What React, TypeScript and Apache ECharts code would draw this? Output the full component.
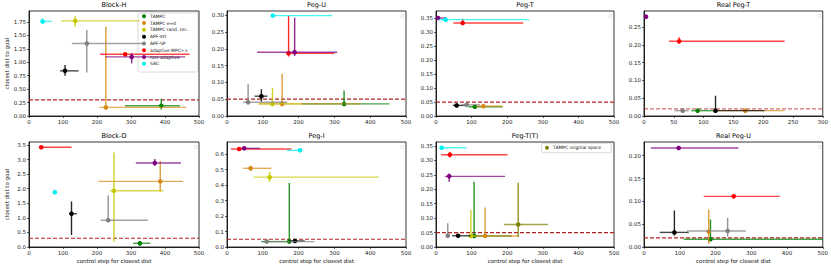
import React, { useEffect, useRef } from "react";
import * as echarts from "echarts";

// ---------- data ----------
const methods = [
  "TAMPC",
  "TAMPC e=0",
  "TAMPC rand. rec.",
  "APF-VO",
  "APF-SP",
  "adaptive MPC++",
  "non-adaptive",
  "SAC",
];
const methodColors = ["#008000", "#d68a16", "#c8c800", "#000000", "#808080", "#ff0000", "#800080", "#00f0f0"];
const extraName = "TAMPC original space";
const extraColor = "#808000";

const titles = ["Block-H", "Peg-U", "Peg-T", "Real Peg-T", "Block-D", "Peg-I", "Peg-T(T)", "Real Peg-U"];

// each row: [x, y, xLow, xHigh, yLow, yHigh] in method order (null = not shown)
type Row = [number, number, number, number, number, number] | null;

const blockH: Row[] = [
  [389, 0.19, 282, 444, 0.12, 0.32],
  [226, 0.16, 207, 462, 0.12, 1.66],
  [136, 1.77, 94, 325, 1.66, 1.86],
  [106, 0.84, 91, 146, 0.75, 0.95],
  [170, 1.35, 126, 336, 0.81, 1.6],
  [283, 1.15, 209, 472, 1.11, 1.17],
  [302, 1.1, 224, 459, 0.98, 1.17],
  [40, 1.76, 34, 67, 1.72, 1.82],
];
const pegU: Row[] = [
  [327, 0.036, 208, 454, 0.029, 0.076],
  [154, 0.036, 89, 375, 0.029, 0.126],
  [127, 0.036, 89, 208, 0.029, 0.083],
  [96, 0.059, 77, 113, 0.043, 0.08],
  [59, 0.041, 45, 168, 0.034, 0.096],
  [172, 0.187, 166, 300, 0.177, 0.299],
  [189, 0.19, 84, 308, 0.179, 0.293],
  [128, 0.299, 128, 294, 0.297, 0.301],
];
const pegT: Row[] = [
  [109, 0.033, 91, 187, 0.031, 0.036],
  [133, 0.035, 114, 187, 0.033, 0.037],
  null,
  [58, 0.038, 47, 86, 0.036, 0.04],
  [86, 0.04, 72, 124, 0.038, 0.042],
  [75, 0.333, 49, 245, 0.326, 0.348],
  [5.6, 0.351, 0, 30, 0.349, 0.353],
  [27, 0.345, 7, 262, 0.343, 0.347],
];
const realPegT: Row[] = [
  [90, 0.015, 79, 120, 0.013, 0.017],
  [170, 0.015, 120, 236, 0.013, 0.017],
  null,
  [120, 0.015, 120, 202, 0.012, 0.057],
  [65, 0.015, 51, 75, 0.013, 0.017],
  [59, 0.21, 42, 236, 0.203, 0.221],
  [3.4, 0.279, 3.4, 3.4, 0.279, 0.279],
  null,
];
const blockD: Row[] = [
  [326, 0.126, 306, 357, 0.03, 0.2],
  [386, 2.25, 204, 453, 1.9, 2.95],
  [250, 1.93, 238, 395, 0.18, 3.24],
  [125, 1.14, 118, 141, 0.41, 1.56],
  [233, 0.915, 211, 350, 0.915, 1.77],
  [36, 3.42, 30, 125, 3.4, 3.44],
  [370, 2.88, 314, 447, 2.79, 3.02],
  [76, 1.88, 76, 76, 1.85, 1.91],
];
const pegI: Row[] = [
  [174, 0.035, 96, 175, 0.03, 0.413],
  [66, 0.508, 45, 124, 0.49, 0.525],
  [119, 0.451, 74, 424, 0.42, 0.485],
  [190, 0.039, 175, 217, 0.037, 0.041],
  [111, 0.035, 96, 244, 0.033, 0.037],
  [34, 0.633, 11, 180, 0.63, 0.636],
  [48, 0.637, 40, 92, 0.635, 0.64],
  [204, 0.624, 167, 204, 0.622, 0.626],
];
const pegTT: Row[] = [
  [107, 0.038, 98, 213, 0.033, 0.226],
  [138, 0.038, 91, 231, 0.033, 0.137],
  [98, 0.038, 90, 110, 0.033, 0.128],
  [62, 0.039, 45, 97, 0.037, 0.041],
  [33, 0.039, 28, 38, 0.033, 0.082],
  [39, 0.32, 14, 201, 0.31, 0.33],
  [37, 0.245, 25, 194, 0.226, 0.255],
  [16, 0.344, 11, 86, 0.342, 0.346],
];
const pegTTOriginal: Row = [231, 0.078, 191, 315, 0.035, 0.223];
const realPegU: Row[] = [
  [186, 0.017, 111, 500, 0.014, 0.06],
  [181, 0.034, 175, 185, 0.007, 0.082],
  null,
  [85, 0.032, 44, 125, 0.025, 0.08],
  [234, 0.035, 120, 285, 0.023, 0.064],
  [251, 0.111, 167, 380, 0.106, 0.116],
  [97, 0.217, 19, 264, 0.215, 0.219],
  null,
];
const panels: Row[][] = [blockH, pegU, pegT, realPegT, blockD, pegI, pegTT, realPegU];

const thresholds = [0.3, 0.05, 0.05, 0.02, 0.3, 0.05, 0.05, 0.02];
const xMaxes = [500, 500, 500, 300, 500, 500, 500, 500];
const xIntervals = [100, 100, 100, 50, 100, 100, 100, 100];
const yMaxes = [1.954, 0.3128, 0.376, 0.295, 3.6, 0.678, 0.364, 0.23];
const yTicks: number[][] = [
  [0, 0.25, 0.5, 0.75, 1.0, 1.25, 1.5, 1.75],
  [0, 0.05, 0.1, 0.15, 0.2, 0.25, 0.3],
  [0, 0.05, 0.1, 0.15, 0.2, 0.25, 0.3, 0.35],
  [0, 0.05, 0.1, 0.15, 0.2, 0.25],
  [0, 0.5, 1.0, 1.5, 2.0, 2.5, 3.0, 3.5],
  [0, 0.1, 0.2, 0.3, 0.4, 0.5, 0.6],
  [0, 0.05, 0.1, 0.15, 0.2, 0.25, 0.3, 0.35],
  [0, 0.05, 0.1, 0.15, 0.2],
];
const yDecimals = [2, 2, 2, 2, 1, 1, 2, 2];
const xLabel = "control step for closest dist";
const yLabel = "closest dist to goal";

// ---------- layout ----------
const colLeft = [29, 227, 436, 644];
const colWidth = [170, 179, 178, 179];
const rowTop = [11, 142];
const plotHeight = 105;
const FONT = "DejaVu Sans";

function errorBarRender(params: any, api: any) {
  const x = api.value(0);
  const y = api.value(1);
  const p = api.coord([x, y]);
  const xl = api.coord([api.value(2), y]);
  const xh = api.coord([api.value(3), y]);
  const yl = api.coord([x, api.value(4)]);
  const yh = api.coord([x, api.value(5)]);
  const color = api.visual("color");
  return {
    type: "group",
    children: [
      {
        type: "line",
        shape: { x1: xl[0], y1: p[1], x2: xh[0], y2: p[1] },
        style: { stroke: color, lineWidth: 1.4, opacity: 0.72 },
      },
      {
        type: "line",
        shape: { x1: p[0], y1: yl[1], x2: p[0], y2: yh[1] },
        style: { stroke: color, lineWidth: 1.4, opacity: 0.85 },
      },
      {
        type: "circle",
        shape: { cx: p[0], cy: p[1], r: 2.3 },
        style: { fill: color },
      },
    ],
  };
}

export default function App() {
  const ref = useRef<HTMLDivElement>(null);
  useEffect(() => {
    if (!ref.current) return;
    const chart = echarts.init(ref.current, null, { renderer: "svg" });

    const grid: any[] = [];
    const xAxis: any[] = [];
    const yAxis: any[] = [];
    const series: any[] = [];
    const graphic: any[] = [];

    panels.forEach((rows, i) => {
      const r = Math.floor(i / 4);
      const c = i % 4;
      const left = colLeft[c];
      const width = colWidth[c];
      const top = rowTop[r];
      grid.push({
        left,
        top,
        width,
        height: plotHeight,
        show: true,
        borderColor: "#000",
        borderWidth: 0.8,
        backgroundColor: "transparent",
      });
      xAxis.push({
        type: "value",
        gridIndex: i,
        min: 0,
        max: xMaxes[i],
        interval: xIntervals[i],
        name: r === 1 ? xLabel : "",
        nameLocation: "middle",
        nameGap: 11,
        nameTextStyle: { fontSize: 5.5, color: "#111", fontFamily: FONT },
        axisLine: { show: true, lineStyle: { color: "#000", width: 0.8 } },
        axisTick: { show: true, length: 2, lineStyle: { color: "#000", width: 0.6 } },
        axisLabel: { fontSize: 5.5, color: "#222", margin: 3, fontFamily: FONT, hideOverlap: false },
        splitLine: { show: false },
      });
      const dec = yDecimals[i];
      yAxis.push({
        type: "value",
        gridIndex: i,
        min: 0,
        max: yMaxes[i],
        name: c === 0 ? yLabel : "",
        nameLocation: "middle",
        nameGap: 19,
        nameTextStyle: { fontSize: 5.5, color: "#111", fontFamily: FONT },
        axisLine: { show: true, lineStyle: { color: "#000", width: 0.8 } },
        axisTick: {
          show: true,
          length: 2,
          customValues: yTicks[i],
          lineStyle: { color: "#000", width: 0.6 },
        },
        axisLabel: {
          fontSize: 5.5,
          color: "#222",
          margin: 3,
          fontFamily: FONT,
          customValues: yTicks[i],
          formatter: (v: number) => v.toFixed(dec),
        },
        splitLine: { show: false },
      });

      // threshold line
      series.push({
        type: "line",
        name: "goal threshold",
        xAxisIndex: i,
        yAxisIndex: i,
        data: [
          [0, thresholds[i]],
          [xMaxes[i], thresholds[i]],
        ],
        showSymbol: false,
        symbol: "none",
        silent: true,
        z: 1,
        lineStyle: { type: [4, 2], color: "#b22222", width: 1.2, opacity: i === 3 ? 0.65 : 1 },
      });

      const addBar = (name: string, color: string, row: Row) => {
        if (!row) return;
        series.push({
          type: "custom",
          name,
          xAxisIndex: i,
          yAxisIndex: i,
          itemStyle: { color },
          encode: { x: 0, y: 1 },
          renderItem: errorBarRender,
          data: [row],
          z: 3,
        });
      };
      rows.forEach((row, m) => addBar(methods[m], methodColors[m], row));
      if (i === 6) addBar(extraName, extraColor, pegTTOriginal);

      // title
      graphic.push({
        type: "text",
        x: left + width / 2,
        y: r === 0 ? 5 : 136,
        style: {
          text: titles[i],
          fontSize: 6.5,
          fill: "#000",
          fontFamily: FONT,
          textAlign: "center",
          textVerticalAlign: "middle",
        },
      });
      // empty legend boxes
      if (i !== 0 && i !== 6) {
        graphic.push({
          type: "rect",
          shape: { x: left + width - 5, y: top + 3.5, width: 3, height: 3 },
          style: { fill: "#fff", stroke: "#d8d8d8", lineWidth: 0.6 },
        });
      }
    });

    // legend frames
    graphic.push({
      type: "rect",
      z: -1,
      shape: { x: 138, y: 13, width: 60, height: 59, r: 1.5 },
      style: { fill: "rgba(255,255,255,0.6)", stroke: "#d0d0d0", lineWidth: 0.8 },
    });
    graphic.push({
      type: "rect",
      z: -1,
      shape: { x: 541.7, y: 143.3, width: 69.6, height: 9.4, r: 1.5 },
      style: { fill: "rgba(255,255,255,0.6)", stroke: "#d0d0d0", lineWidth: 0.8 },
    });

    const legendBase = {
      orient: "vertical",
      itemWidth: 4,
      itemHeight: 4,
      itemGap: 1.3,
      padding: 0,
      selectedMode: false,
      textStyle: { fontSize: 4.5, lineHeight: 5.5, color: "#111", fontFamily: FONT, padding: [0, 0, 0, -1] },
    };

    chart.setOption({
      animation: false,
      textStyle: { fontFamily: FONT },
      grid,
      xAxis,
      yAxis,
      legend: [
        {
          ...legendBase,
          left: 142,
          top: 13.5,
          data: methods.map((n) => ({ name: n, icon: "circle" })),
        },
        {
          ...legendBase,
          left: 545,
          top: 145,
          data: [{ name: extraName, icon: "circle" }],
        },
      ],
      series,
      graphic,
    });
    return () => chart.dispose();
  }, []);
  return (
    <div
      ref={ref}
      style={{ position: "fixed", left: 0, top: 0, width: 831, height: 266, background: "#fff" }}
    />
  );
}
